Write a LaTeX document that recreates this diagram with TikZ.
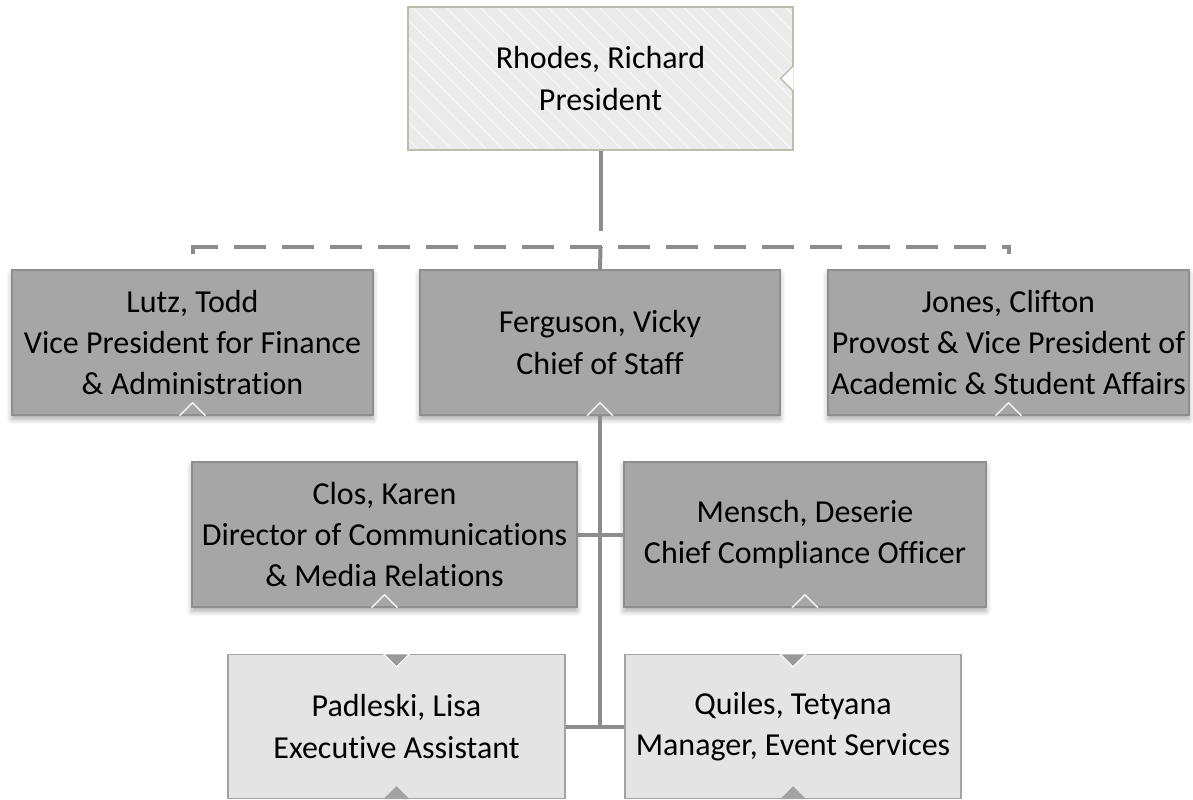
\documentclass[tikz,border=0pt]{standalone}
\usepackage{fontspec}
\setmainfont{Carlito}[Ligatures=NoCommon]
\usetikzlibrary{patterns.meta,shadows.blur}

\definecolor{linegray}{HTML}{8C8C8C}
\definecolor{topfill}{HTML}{EBEBEB}
\definecolor{topborder}{HTML}{BDBDAE}
\definecolor{vpfill}{HTML}{A6A6A6}
\definecolor{vpborder}{HTML}{8E8E8E}
\definecolor{stafffill}{HTML}{E4E4E4}
\definecolor{staffborder}{HTML}{A3A3A3}

\begin{document}
\begin{tikzpicture}[x=0.75pt,y=0.75pt,yscale=-1,xscale=1,
    every node/.style={font=\fontsize{24}{31}\selectfont, align=center, inner sep=0.75pt},
    topbox/.style={draw=topborder, line width=1.1pt, preaction={fill=topfill},
        pattern={Lines[angle=-45,distance=9pt,line width=0.9pt]}, pattern color=white!60!topfill,
        minimum width=288.75pt, minimum height=107.25pt},
    vpbox/.style={draw=vpborder, fill=vpfill, line width=1.1pt, minimum height=108.75pt,
        blur shadow={shadow xshift=0pt, shadow yshift=-3pt, shadow blur radius=4pt, shadow opacity=35}},
    staffbox/.style={draw=staffborder, fill=stafffill, line width=1.1pt, minimum height=108pt},
    link/.style={draw=linegray, line width=3pt},
    busline/.style={link, dash pattern=on 24pt off 12pt},
    uptick/.style={draw=white!80!vpfill, line width=1.1pt},
    downtick/.style={fill=vpfill!92!black, draw=white, line width=0.8pt},
  ]
    \useasboundingbox (0,0) rectangle (1193,800);

    % President
    \node[topbox] (pres) at (600.5,78.5) {Rhodes, Richard\\President};
    \fill[white] (pres.east) +(0,-13) -- +(-13,0) -- +(0,13) -- cycle;
    \draw[draw=topborder, line width=1.1pt] (pres.east) +(0,-13) -- +(-13,0) -- +(0,13);

    % Vice presidents
    \node[vpbox, minimum width=270.75pt] (lutz) at (192.5,342.5) {Lutz, Todd\\Vice President for Finance\\\& Administration};
    \node[vpbox, minimum width=270pt] (ferg) at (600,342.5) {Ferguson, Vicky\\Chief of Staff};
    \node[vpbox, minimum width=270.75pt] (jones) at (1008.5,342.5) {Jones, Clifton\\Provost \& Vice President of\\Academic \& Student Affairs};

    % Staff under Ferguson
    \node[vpbox, minimum width=288.75pt] (clos) at (384.5,534.5) {Clos, Karen\\Director of Communications\\\& Media Relations};
    \node[vpbox, minimum width=271.5pt] (mensch) at (805,534.5) {Mensch, Deserie\\Chief Compliance Officer};
    \node[staffbox, minimum width=252.75pt] (padl) at (396.5,726.5) {Padleski, Lisa\\Executive Assistant};
    \node[staffbox, minimum width=252pt] (quil) at (793,726.5) {Quiles, Tetyana\\Manager, Event Services};

    % small markers on the boxes
    \foreach \n in {lutz,ferg,jones,clos,mensch}
        \draw[uptick] (\n.south) +(-13,0) -- +(0,-13) -- +(13,0);
    \foreach \n in {padl,quil} {
        \filldraw[downtick] (\n.north) +(-13,0) -- +(0,13) -- +(13,0) -- cycle;
        \fill[fill=staffborder] (\n.south) +(-13,0) -- +(0,-13) -- +(13,0) -- cycle;
    }

    % Connectors
    \coordinate (bus) at (600.5,247);
    \coordinate (busL) at (192.5,247);
    \coordinate (busR) at (1009,247);
    \draw[link, dash pattern=on 60pt off 12pt] (pres.south) -- (bus);
    \draw[link] (bus) -- (ferg.north);
    \draw[busline] (busL) ++(0,7) -- (busL) -- (busR) -- ++(0,7);
    \draw[link] (ferg.south) -- (ferg.south |- padl.east);
    \draw[link] (clos.east) -- (mensch.west);
    \draw[link] (padl.east) -- (quil.west);

\end{tikzpicture}
\end{document}
